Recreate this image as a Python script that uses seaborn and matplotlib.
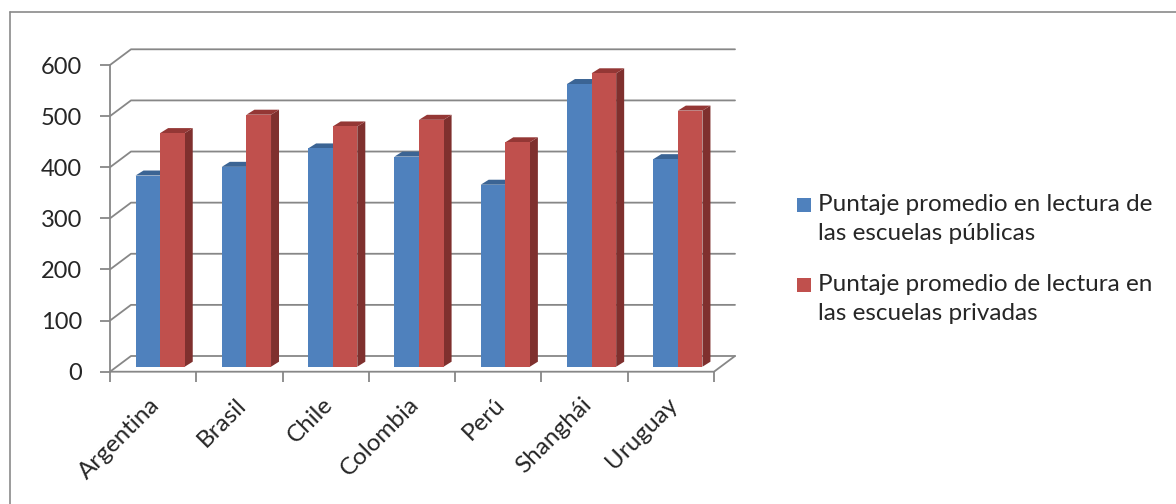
import numpy as np
import pandas as pd
import matplotlib
matplotlib.use("Agg")
import matplotlib.pyplot as plt
import matplotlib.transforms as mtrans
from matplotlib.patches import Polygon, Rectangle
from matplotlib.lines import Line2D
import seaborn as sns

# ---- data ----
categories = ["Argentina", "Brasil", "Chile", "Colombia", "Perú", "Shanghái", "Uruguay"]
public_scores = [374, 391, 427, 411, 356, 553, 406]
private_scores = [457, 493, 470, 483, 439, 574, 501]
series_names = ["Puntaje promedio en lectura de\nlas escuelas públicas",
                "Puntaje promedio de lectura en\nlas escuelas privadas"]
y_ticks = [0, 100, 200, 300, 400, 500, 600]

sns.set_style("white")
plt.rcParams["font.family"] = ["Lato", "DejaVu Sans"]

W, H = 1176, 504
fig = plt.figure(figsize=(W / 100, H / 100), dpi=100)

# front plane of the 3D box (pixels)
x_left, x_right = 110, 714
y_bottom, y_top = 371.7, 65
ax = fig.add_axes([x_left / W, 1 - y_bottom / H, (x_right - x_left) / W, (y_bottom - y_top) / H])

df = pd.DataFrame({
    "categoria": categories * 2,
    "serie": [series_names[0]] * len(categories) + [series_names[1]] * len(categories),
    "valor": public_scores + private_scores,
})
front_cols = ["#4F81BD", "#C0504D"]
side_cols = ["#385D8A", "#7F302E"]
top_cols = ["#3B6494", "#943735"]

sns.barplot(data=df, x="categoria", y="valor", hue="serie", palette=front_cols,
            width=0.57, gap=0, legend=False, ax=ax, saturation=1, zorder=3)

ax.set_xlim(-0.5, len(categories) - 0.5)
ax.set_ylim(0, 600)

px_x = (x_right - x_left) / len(categories)   # pixels per category unit
px_y = (y_bottom - y_top) / 600               # pixels per value unit

# perspective offsets
back_dx, back_dy = 21 / px_x, 15.7 / px_y
bar_dx, bar_dy = 7 / px_x, 5 / px_y
depth_dx, depth_dy = 8 / px_x, 5 / px_y

grid_col = "#878787"
xl, xr = -0.5, len(categories) - 0.5
for v in y_ticks:
    ax.add_line(Line2D([xl, xl + back_dx, xr + back_dx], [v, v + back_dy, v + back_dy],
                       color=grid_col, lw=1.3, clip_on=False, zorder=1))
ax.add_line(Line2D([xl, xl], [0, 600], color=grid_col, lw=1.3, clip_on=False, zorder=1))
ax.add_line(Line2D([xl, xr, xr + back_dx], [0, 0, back_dy], color=grid_col, lw=1.3,
                   clip_on=False, zorder=1))

# 3D bars
n = len(categories)
for i, p in enumerate(list(ax.patches)):
    s = 0 if i < n else 1
    x0 = p.get_x() + bar_dx
    p.set_x(x0)
    p.set_y(bar_dy)
    p.set_edgecolor("none")
    p.set_clip_on(False)
    p.set_zorder(3)
    w, h = p.get_width(), p.get_height()
    y0 = bar_dy
    side = Polygon([(x0 + w, y0), (x0 + w + depth_dx, y0 + depth_dy),
                    (x0 + w + depth_dx, y0 + h + depth_dy), (x0 + w, y0 + h)],
                   closed=True, facecolor=side_cols[s], edgecolor="none", zorder=2, clip_on=False)
    top = Polygon([(x0, y0 + h), (x0 + depth_dx, y0 + h + depth_dy),
                   (x0 + w + depth_dx, y0 + h + depth_dy), (x0 + w, y0 + h)],
                  closed=True, facecolor=top_cols[s], edgecolor="none", zorder=2, clip_on=False)
    ax.add_patch(side)
    ax.add_patch(top)

for sp in ax.spines.values():
    sp.set_visible(False)

ax.set_yticks(y_ticks)
ax.set_yticklabels([str(v) for v in y_ticks], fontsize=17)
ax.tick_params(axis="y", length=7, width=1.3, color=grid_col, pad=13, left=True)

ax.set_xticks(range(n))
ax.set_xticks(np.arange(-0.5, n, 1.0), minor=True)
ax.set_xticklabels(categories, fontsize=17.5, rotation=45, ha="right", rotation_mode="anchor")
ax.tick_params(axis="x", which="major", length=0, pad=16)
ax.tick_params(axis="x", which="minor", length=7, width=1.3, color=grid_col, bottom=True)
offset = mtrans.ScaledTranslation(-0.04, 0, fig.dpi_scale_trans)
for lab in ax.get_xticklabels():
    lab.set_transform(lab.get_transform() + offset)
ax.set_xlabel("")
ax.set_ylabel("")
ax.patch.set_visible(False)

# legend (manual)
leg_y = [198, 278]
for s in range(2):
    fig.add_artist(Rectangle((797 / W, 1 - (leg_y[s] + 14) / H), 14 / W, 14 / H,
                             facecolor=front_cols[s], edgecolor="none", transform=fig.transFigure))
    fig.text(818 / W, 1 - (leg_y[s] - 4) / H, series_names[s], fontsize=17.5, va="top", ha="left",
             linespacing=1.45)

# outer border (left/top visible)
fig.add_artist(Line2D([10 / W, 10 / W], [0, 1 - 12 / H], color="#8a8a8a", lw=1.2,
                      transform=fig.transFigure))
fig.add_artist(Line2D([10 / W, 1], [1 - 12 / H, 1 - 12 / H], color="#8a8a8a", lw=1.2,
                      transform=fig.transFigure))

fig.savefig("out.png", dpi=100, facecolor="white")
